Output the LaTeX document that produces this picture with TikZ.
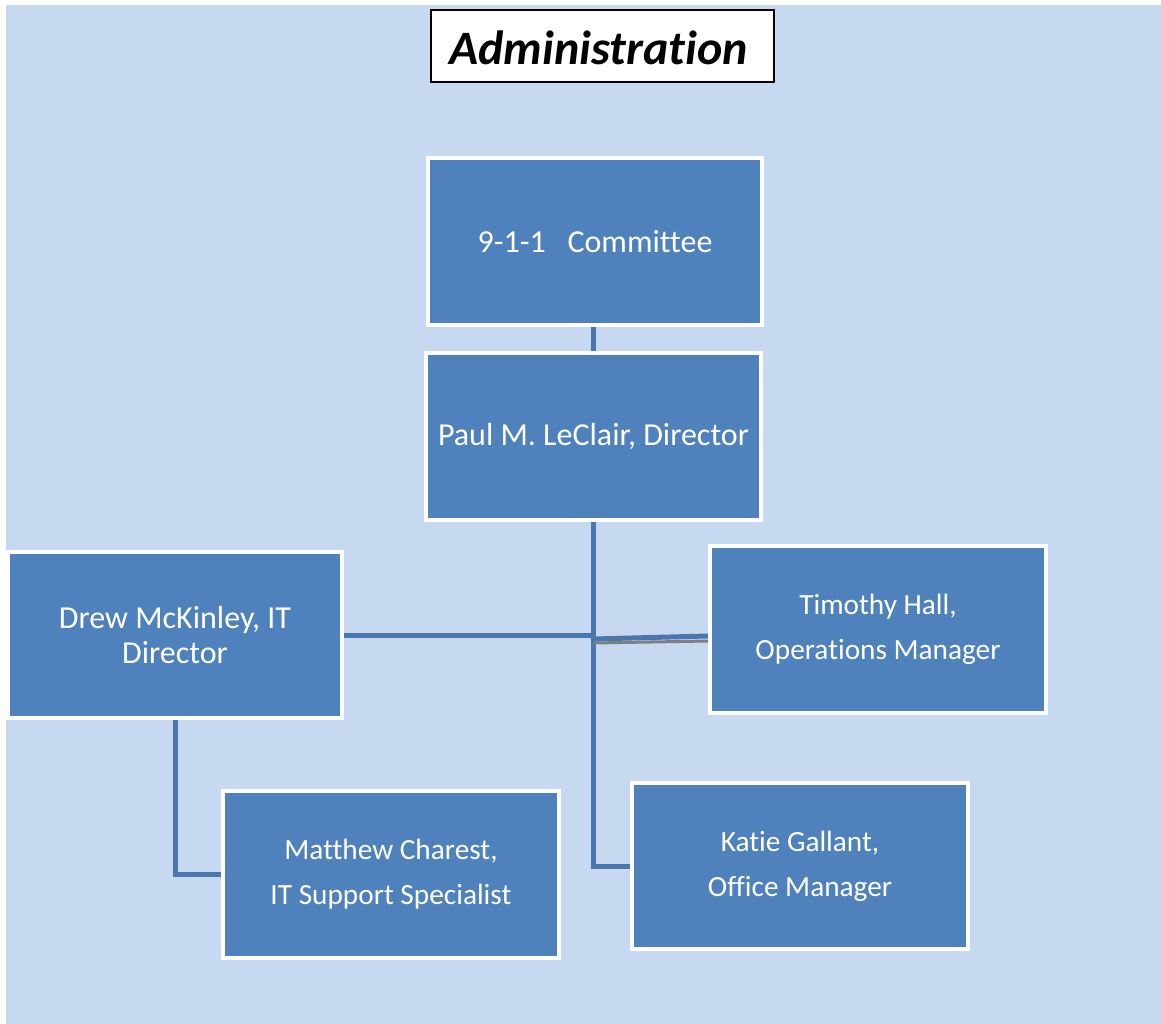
\documentclass[tikz,border=0pt]{standalone}
\usepackage{fontspec}
\setmainfont[Ligatures={NoCommon}]{Carlito}
\definecolor{bgblue}{HTML}{C6D9F0}
\definecolor{boxblue}{HTML}{4F81BD}
\definecolor{lineblue}{HTML}{4A76B0}
\definecolor{shadowgray}{HTML}{7F7F7F}
\begin{document}
\begin{tikzpicture}[x=1pt,y=-1pt,
  orgbox/.style={draw=white, line width=4pt, fill=boxblue, text=white, rectangle,
    inner sep=0pt, align=center, font=\fontsize{32}{44}\selectfont},
  smalltext/.style={font=\fontsize{29.3}{45}\selectfont},
  conn/.style={draw=lineblue, line width=5pt},
  titlebox/.style={draw=black, line width=2pt, fill=white, inner sep=0pt,
    minimum width=343, minimum height=72, text height=55pt, text depth=17pt,
    font=\fontsize{48}{52}\selectfont\bfseries\itshape}]
\useasboundingbox (0,0) rectangle (1161,1024);
\fill[white] (0,0) rectangle (1161,1024);
\fill[bgblue] (6,5) rectangle (1161,1024);
\node[titlebox] (title) at (602.5,46) {Administration\,};
\node[orgbox, minimum width=334, minimum height=167] (committee) at (595,241.5) {9-1-1\ \ \ Committee};
\node[orgbox, minimum width=335, minimum height=167] (paul) at (593.5,436.5) {Paul M. LeClair, Director};
\node[orgbox, minimum width=334, minimum height=166, font=\fontsize{32}{35}\selectfont] (drew) at (175,635) {Drew McKinley, IT\\Director};
\node[orgbox, smalltext, minimum width=336, minimum height=167] (timothy) at (878,629.5) {Timothy Hall,\\Operations Manager};
\node[orgbox, smalltext, minimum width=336, minimum height=167] (matthew) at (391,874.5) {Matthew Charest,\\IT Support Specialist};
\node[orgbox, smalltext, minimum width=336, minimum height=166] (katie) at (800,866) {Katie Gallant,\\Office Manager};
\coordinate (junction) at (paul.south |- drew.east);
\draw[conn] (paul.north |- committee.south) -- (paul.north);
\draw[conn] (paul.south) -- (paul.south |- katie.west) -- (katie.west);
\draw[conn] (drew.east) -- (junction);
\draw[draw=shadowgray, line width=3pt] ([yshift=-8]junction) -- ([yshift=-11.5]timothy.west);
\draw[conn] ([yshift=-4]junction) -- ([yshift=-6.5]timothy.west);
\draw[conn] (drew.south) |- (matthew.west);
\end{tikzpicture}
\end{document}
